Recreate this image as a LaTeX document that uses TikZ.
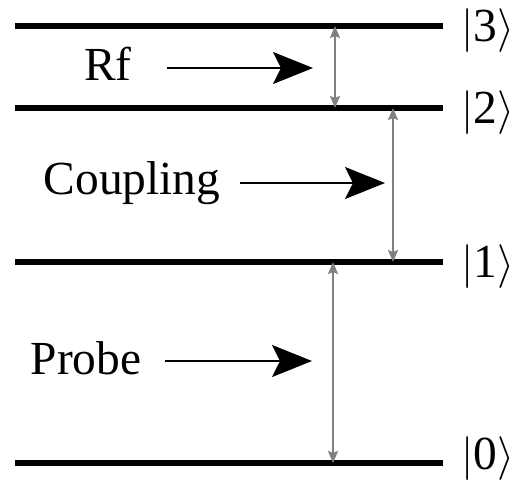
\documentclass[tikz,border=0pt]{standalone}
\usepackage{fontspec}
\newfontfamily\levelfont{Liberation Serif}
\usetikzlibrary{arrows.meta}
\tikzset{
  level/.style={line width=3pt},
  trans/.style={draw=gray, line width=1.1pt, {Stealth[length=0.24cm,width=0.2cm,inset=0.04cm]}-{Stealth[length=0.24cm,width=0.2cm,inset=0.04cm]}},
  beam/.style={line width=1.2pt, -{Stealth[length=0.8cm,width=0.64cm,inset=0.16cm]}},
  lbl/.style={font=\fontsize{27}{32}\levelfont, inner sep=0pt},
}
\begin{document}
\begin{tikzpicture}[x=0.02cm, y=-0.02cm]
  \useasboundingbox (0,0) rectangle (526,481);
  % energy levels
  \foreach \n/\y/\dy in {3/26/5, 2/108/5, 1/262/5, 0/463/-4} {
    \coordinate (l\n w) at (15,\y);
    \coordinate (l\n e) at (443,\y);
    \draw[level] (l\n w) -- (l\n e);
    \node[lbl, anchor=west] (k\n) at (461,\y+\dy) {$|$\n$\rangle$};
  }
  % transitions
  \draw[trans] (335,26) coordinate (rf top) -- (335,108) coordinate (rf bot);
  \draw[trans] (393,108) coordinate (cp top) -- (393,262) coordinate (cp bot);
  \draw[trans] (333,262) coordinate (pr top) -- (333,463) coordinate (pr bot);
  % labels
  \node[lbl] (rf) at (108,64) {Rf};
  \node[lbl] (cp) at (132,183) {Coupling};
  \node[lbl] (pr) at (86,358) {Probe};
  \coordinate (rf tip) at (313,68);
  \coordinate (cp tip) at (385,183);
  \coordinate (pr tip) at (312,361);
  \draw[beam] (167,68) -- (rf tip);
  \draw[beam] (240,183) -- (cp tip);
  \draw[beam] (165,361) -- (pr tip);
\end{tikzpicture}
\end{document}
